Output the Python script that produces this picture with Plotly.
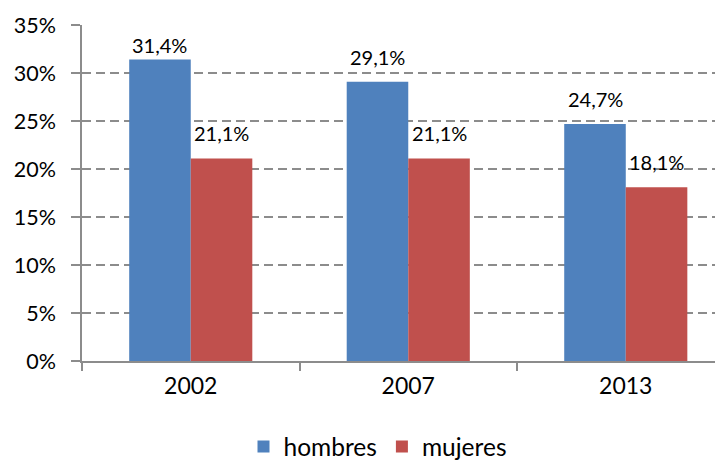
import plotly.graph_objects as go

years = ["2002", "2007", "2013"]
hombres = [0.314, 0.291, 0.247]
mujeres = [0.211, 0.211, 0.181]

blue = "#4F81BD"
red = "#C0504D"
font = "Lato, Open Sans, sans-serif"
bargap = 0.434

# the page body keeps its default 8px margin, so the figure is 8px smaller
fig = go.Figure()
for name, vals, color in [("hombres", hombres, blue), ("mujeres", mujeres, red)]:
    fig.add_trace(go.Bar(
        x=years, y=vals, name=name, marker=dict(color=color, line=dict(width=0)),
    ))

# data labels above bars, kept inside the plot area like Excel does
half = (1 - bargap) / 4
for i in range(len(years)):
    for vals, dx in [(hombres, -half), (mujeres, half)]:
        v = vals[i]
        fig.add_annotation(
            x=i + dx, y=min(v + 0.026, 0.329), text=f"{v * 100:.1f}%".replace(".", ","),
            showarrow=False, yanchor="middle", xanchor="center",
            font=dict(size=20, color="black", family=font),
        )

fig.update_layout(
    width=715, height=455,
    margin=dict(l=74, r=0, t=17, b=102, autoexpand=False),
    plot_bgcolor="white", paper_bgcolor="white",
    separators=",.",
    barmode="group", bargap=bargap, bargroupgap=0,
    font=dict(family=font, size=21, color="black"),
    showlegend=True,
    legend=dict(orientation="h", x=0.461, xanchor="center", y=-0.255, yanchor="middle",
                font=dict(size=24.5), traceorder="normal"),
)
fig.update_xaxes(
    range=[-0.5, 2.447], showline=True, linecolor="#8C8C8C", linewidth=1.5,
    ticks="outside", tickson="boundaries", ticklen=8, tickcolor="#8C8C8C",
    tickwidth=1.5, showgrid=False, tickfont=dict(size=23), automargin=False,
    ticklabelstandoff=4,
)
fig.update_yaxes(
    range=[0, 0.35], dtick=0.05, tickformat=".0%", showline=True,
    linecolor="#8C8C8C", linewidth=1.5, ticks="outside", ticklen=9,
    tickcolor="#8C8C8C", tickwidth=1.5, showgrid=True, gridcolor="#8C8C8C",
    griddash="9px,5px", gridwidth=1.5, zeroline=False, tickfont=dict(size=21.5),
    automargin=False, ticklabelstandoff=11,
)

fig.write_html("out.html")
